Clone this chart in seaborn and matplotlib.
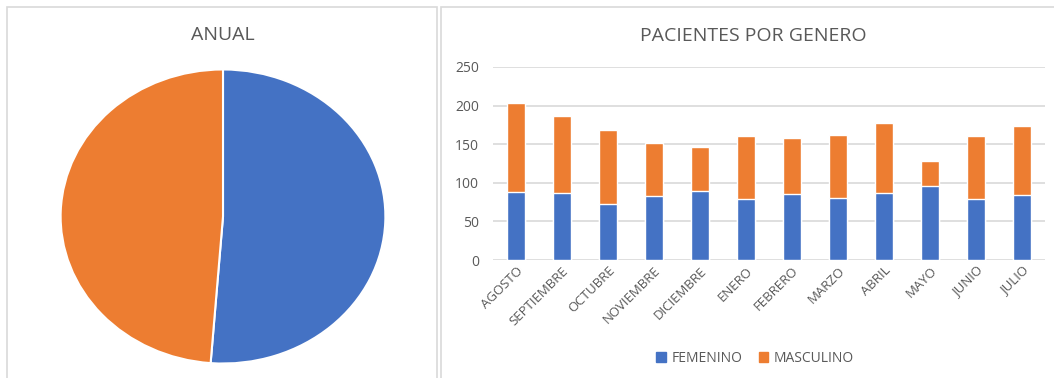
import matplotlib
matplotlib.use("Agg")
import matplotlib.pyplot as plt
import seaborn as sns
import pandas as pd
from matplotlib.patches import Rectangle

meses = ['AGOSTO', 'SEPTIEMBRE', 'OCTUBRE', 'NOVIEMBRE', 'DICIEMBRE', 'ENERO',
         'FEBRERO', 'MARZO', 'ABRIL', 'MAYO', 'JUNIO', 'JULIO']
femenino = [88, 87, 73, 83, 90, 79, 86, 80, 87, 96, 79, 84]
masculino = [115, 100, 95, 68, 57, 81, 72, 82, 90, 32, 82, 90]
generos = ['FEMENINO', 'MASCULINO']

AZUL = '#4472C4'
NARANJA = '#ED7D31'
GRIS = '#595959'
LINEA = '#D9D9D9'

sns.set_theme(style="white")
plt.rcParams['font.family'] = ['Open Sans', 'DejaVu Sans']

W, H = 1054, 378
fig = plt.figure(figsize=(W / 100, H / 100), dpi=100)

def box(x0, y0, x1, y1):
    # pixel coords (top-left origin) -> figure fraction
    return [x0 / W, 1 - y1 / H, (x1 - x0) / W, (y1 - y0) / H]

# panel borders
for x0, x1 in [(7, 437), (441, 1060)]:
    fig.add_artist(Rectangle((x0 / W, -0.01), (x1 - x0) / W, 1 - 7 / H + 0.01,
                             transform=fig.transFigure, fill=False,
                             edgecolor=LINEA, lw=1.2))

# ---- pie ----
ax1 = fig.add_axes(box(59, 68, 387, 365))
totales = [sum(femenino), sum(masculino)]
ax1.pie(totales, colors=[AZUL, NARANJA], startangle=90, counterclock=False,
        wedgeprops=dict(edgecolor='white', linewidth=1.5))
ax1.set_aspect('auto')
ax1.set_xlim(-1.01, 1.01)
ax1.set_ylim(-1.01, 1.01)
fig.text(223 / W, 1 - 35 / H, 'ANUAL', ha='center', va='center',
         fontsize=14, color=GRIS)

# ---- stacked bars ----
ax2 = fig.add_axes(box(493, 67, 1045, 260))
df = pd.DataFrame({'mes': meses, 'FEMENINO': femenino, 'MASCULINO': masculino})
df['total'] = df['FEMENINO'] + df['MASCULINO']
sns.barplot(data=df, x='mes', y='total', color=NARANJA, width=0.41,
            saturation=1, ax=ax2, zorder=3)
sns.barplot(data=df, x='mes', y='FEMENINO', color=AZUL, width=0.41,
            saturation=1, ax=ax2, zorder=3)
ax2.set_ylim(0, 250)
ax2.set_xlim(-0.5, len(meses) - 0.5)
ax2.set_yticks(range(0, 251, 50))
ax2.yaxis.grid(True, color=LINEA, lw=1.2)
ax2.set_axisbelow(True)
for s in ax2.spines.values():
    s.set_visible(False)
ax2.set_xlabel('')
ax2.set_ylabel('')
ax2.tick_params(axis='y', length=0, labelsize=10, labelcolor=GRIS, pad=10)
ax2.tick_params(axis='x', length=0, labelsize=9.5, labelcolor=GRIS, pad=3)
plt.setp(ax2.get_xticklabels(), rotation=45, ha='right', rotation_mode='anchor')

fig.text(753 / W, 1 - 36 / H, 'PACIENTES POR GENERO', ha='center', va='center',
         fontsize=14, color=GRIS)

handles = [Rectangle((0, 0), 1, 1, color=c) for c in (AZUL, NARANJA)]
fig.legend(handles, generos, loc='center', bbox_to_anchor=(755 / W, 1 - 358 / H),
           ncol=2, frameon=False, fontsize=10, labelcolor=GRIS,
           handlelength=0.7, handleheight=0.7, handletextpad=0.4, columnspacing=1.2)

fig.savefig('out.png', dpi=100, facecolor='white')
